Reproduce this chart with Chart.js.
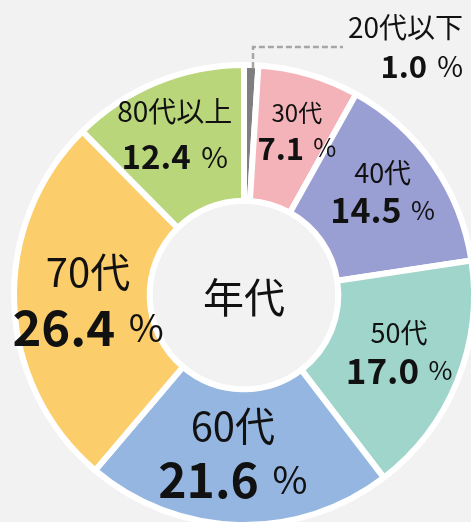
<!DOCTYPE html>
<html>
<head>
<meta charset="utf-8">
<script src="https://cdn.jsdelivr.net/npm/chart.js@4"></script>
<style>
  html, body { margin: 0; padding: 0; background: #f2f2f2; overflow: hidden; }
  body { width: 471px; height: 522px; position: relative; }
  #ageChart { position: absolute; left: 0; top: 0; }
</style>
</head>
<body>
<canvas id="ageChart" width="488" height="590"></canvas>
<script>
// Age group share (%)
const ageLabels = ["20代以下", "30代", "40代", "50代", "60代", "70代", "80代以上"];
const agePercents = [1.0, 7.1, 14.5, 17.0, 21.6, 26.4, 12.4];
const ageColors = ["#7f7f7f", "#f4b3b8", "#9a9fd3", "#9fd5ca", "#95b6e1", "#fccd6b", "#b9d67b"];

const FONT = "'Noto Sans CJK JP', 'Noto Sans', sans-serif";

// label look per slice (radius from centre, angle shift in degrees, font sizes, gap)
const labelStyle = [
  null,
  { r: 173, da: 1.4, name: 24, value: 31, pct: 25, gap: 35 },
  { r: 173, da: -2, name: 27, value: 34, pct: 26, gap: 37 },
  { r: 165, da: -2, name: 27, value: 35, pct: 26, gap: 38 },
  { r: 158, da: 2.6, name: 40, value: 48, pct: 38, gap: 54 },
  { r: 156, da: 0.4, name: 40, value: 49, pct: 38, gap: 55 },
  { r: 175, da: -1, name: 28, value: 33, pct: 29, gap: 45 }
];

function drawValueLine(ctx, x, y, value, st, align) {
  ctx.font = "bold " + st.value + "px " + FONT;
  const numText = value.toFixed(1);
  const wNum = ctx.measureText(numText).width;
  ctx.font = st.pct + "px " + FONT;
  const wPct = ctx.measureText("%").width;
  const space = st.pct * 0.36;
  const total = wNum + space + wPct;
  let left = x - total / 2;
  if (align === "right") left = x - total;
  ctx.textAlign = "left";
  ctx.font = "bold " + st.value + "px " + FONT;
  ctx.fillText(numText, left, y);
  ctx.font = st.pct + "px " + FONT;
  ctx.fillText("%", left + wNum + space, y);
}

const sliceLabels = {
  id: "sliceLabels",
  afterDatasetsDraw(chart) {
    const ctx = chart.ctx;
    const arcs = chart.getDatasetMeta(0).data;
    ctx.save();
    ctx.fillStyle = "#111";
    ctx.textBaseline = "middle";

    arcs.forEach((arc, i) => {
      const st = labelStyle[i];
      if (!st) return;
      const mid = (arc.startAngle + arc.endAngle) / 2 + st.da * Math.PI / 180;
      const cx = arc.x + st.r * Math.cos(mid);
      const cy = arc.y + st.r * Math.sin(mid);
      ctx.textAlign = "center";
      ctx.font = st.name + "px " + FONT;
      ctx.fillText(ageLabels[i], cx, cy - st.gap / 2);
      drawValueLine(ctx, cx, cy + st.gap / 2, agePercents[i], st, "center");
    });

    // small first slice: label outside with dashed leader line
    const a0 = arcs[0];
    const m0 = (a0.startAngle + a0.endAngle) / 2;
    const lx = Math.round(a0.x + (a0.outerRadius - 10) * Math.cos(m0) + 2);
    const ly = a0.y + (a0.outerRadius - 3) * Math.sin(m0);
    ctx.strokeStyle = "#a6a6a6";
    ctx.lineWidth = 2.5;
    ctx.setLineDash([6, 3]);
    ctx.beginPath();
    ctx.moveTo(lx, ly);
    ctx.lineTo(lx, 47);
    ctx.lineTo(343, 47);
    ctx.stroke();
    ctx.setLineDash([]);

    ctx.textAlign = "right";
    ctx.font = "28px " + FONT;
    ctx.fillText(ageLabels[0], 463, 27);
    drawValueLine(ctx, 463, 66, agePercents[0], { value: 31, pct: 28 }, "right");

    // centre title
    ctx.textAlign = "center";
    ctx.font = "41px " + FONT;
    ctx.fillText("年代", arcs[0].x, arcs[0].y + 2);
    ctx.restore();
  }
};

const ctx = document.getElementById("ageChart").getContext("2d");

new Chart(ctx, {
  type: "doughnut",
  data: {
    labels: ageLabels,
    datasets: [{
      data: agePercents,
      backgroundColor: ageColors,
      borderColor: "#ffffff",
      borderWidth: 6
    }]
  },
  options: {
    responsive: false,
    animation: false,
    radius: 230,
    cutout: "41%",
    layout: { padding: 0 },
    plugins: {
      legend: { display: false },
      tooltip: { enabled: false }
    }
  },
  plugins: [sliceLabels]
});
</script>
</body>
</html>
